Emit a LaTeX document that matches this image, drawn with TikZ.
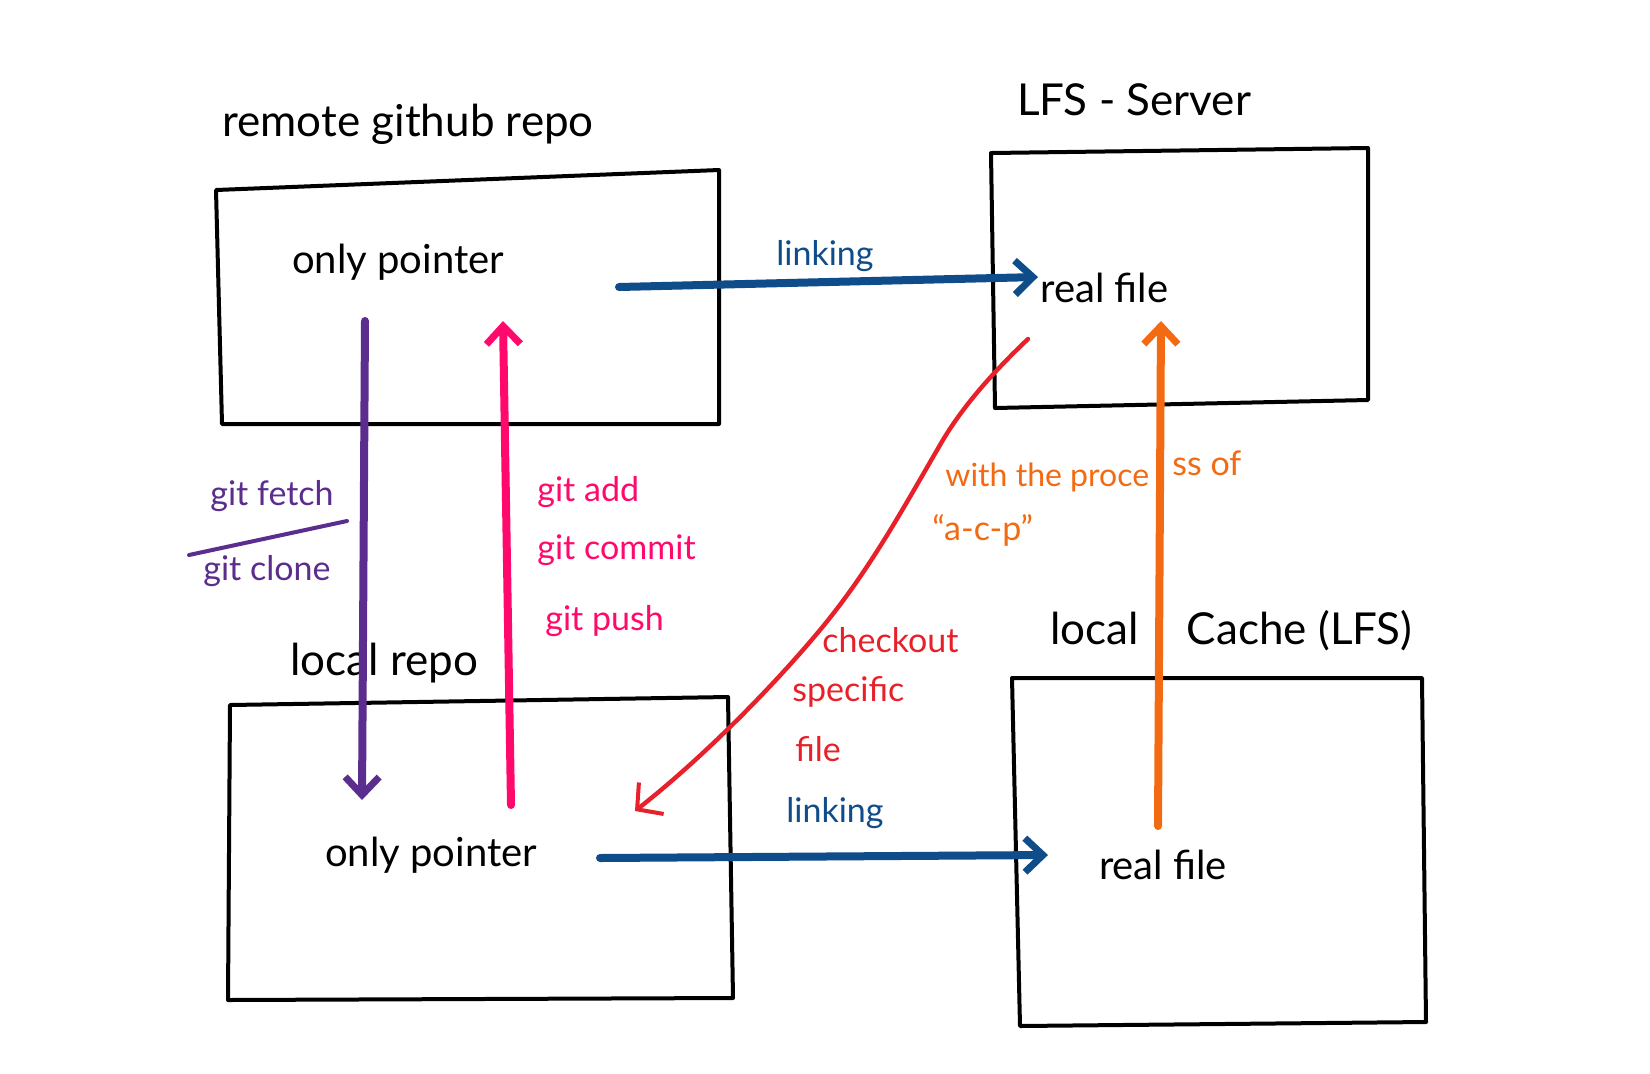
\documentclass[tikz,border=0pt]{standalone}
\usepackage{fontspec}
\setmainfont{Lato}
\usetikzlibrary{arrows.meta}
\definecolor{cblue}{HTML}{0F4C8A}
\definecolor{cpurple}{HTML}{5B2D8E}
\definecolor{cpink}{HTML}{FF0A6C}
\definecolor{cred}{HTML}{E8202A}
\definecolor{corange}{HTML}{F26B13}
\tikzset{
  box/.style={draw=black, line width=2pt, line join=round},
  title/.style={font=\fontsize{22}{24}\selectfont, text=black},
  inner/.style={font=\fontsize{20}{24}\selectfont, text=black},
  arr/.style={line width=4pt, line cap=round, -{Straight Barb[length=9pt,width=17pt,line width=3.5pt]}},
  lbl/.style={font=\fontsize{17}{20}\selectfont, anchor=west, inner sep=0pt},
}
\begin{document}
\begin{tikzpicture}[x=0.5pt,y=-0.5pt]
\useasboundingbox[fill=white] (0,0) rectangle (1650,1073);
% boxes
\draw[box] (216,190) -- (719,170) -- (719,424) -- (222,424) -- cycle;
\draw[box] (991,153) -- (1368,148) -- (1368,400) -- (995,408) -- cycle;
\draw[box] (230,705) -- (728,697) -- (733,998) -- (228,1000) -- cycle;
\draw[box] (1012,678) -- (1422,678) -- (1426,1022) -- (1020,1026) -- cycle;
% titles
\node[title, anchor=west, inner sep=0pt] (t1) at (222,124) {remote github repo};
\node[title] (t2) at (1134,100) {LFS - Server};
\node[title, anchor=west, inner sep=0pt] (t3) at (290,663) {local repo};
\node[title, anchor=west, inner sep=0pt] (t4) at (1050,631) {local\hspace{24pt}Cache (LFS)};
% inner texts
\node[inner] (p1) at (398,262) {only pointer};
\node[inner, anchor=west, inner sep=0pt] (f1) at (1040,288) {real file};
\node[inner] (p2) at (431,855) {only pointer};
\node[inner] (f2) at (1163,865) {real file};
% coordinates for connectors
\coordinate (a1s) at (619,287);
\coordinate (a1e) at (1038,277);
\coordinate (a2s) at (600,858);
\coordinate (a2e) at (1048,855);
\coordinate (ps) at (365,321);
\coordinate (pe) at (362,800);
\coordinate (ks) at (511,805);
\coordinate (ke) at (503,321);
\coordinate (rs) at (1028,339);
\coordinate (re) at (635,811);
\coordinate (os) at (1158,826);
\coordinate (oe) at (1161,321);
% connectors
\draw[arr, draw=cblue] (a1s) -- (a1e);
\draw[arr, draw=cblue] (a2s) -- (a2e);
\draw[arr, draw=cpurple] (ps) -- (pe);
\draw[arr, draw=cpink] (ks) -- (ke);
\draw[line width=2.2pt, draw=cred, line cap=round, line join=round, -{Straight Barb[length=9pt,width=20pt,line width=2pt]}]
  (rs) .. controls (990,375) and (960,410) .. (940,445)
       .. controls (905,505) and (870,570) .. (820,630)
       .. controls (770,690) and (700,760) .. (re);
\draw[arr, draw=corange] (os) -- (oe);
% labels
\node[lbl, text=cblue] (l1) at (776,256) {linking};
\node[lbl, text=cblue] (l2) at (786,813) {linking};
\node[lbl, text=cpurple] (gf) at (210,496) {git fetch};
\coordinate (fl1) at (189,555);
\coordinate (fl2) at (347,521);
\draw[draw=cpurple, line width=2pt, line cap=round] (fl1) -- (fl2);
\node[lbl, text=cpurple] (gc) at (203,571) {git clone};
\node[lbl, text=cpink] (ga) at (537,492) {git add};
\node[lbl, text=cpink] (gm) at (537,550) {git commit};
\node[lbl, text=cpink] (gp) at (545,621) {git push};
\node[lbl, text=cred] (c1) at (822,640) {checkout};
\node[lbl, text=cred] (c2) at (792,692) {specific};
\node[lbl, text=cred] (c3) at (795,749) {file};
\node[lbl, text=corange, font=\fontsize{16}{20}\selectfont] (w1) at (945,477) {with the proce};
\node[lbl, text=corange] (w2) at (1172,463) {ss of};
\node[lbl, text=corange] (w3) at (932,530) {``a-c-p''};
\end{tikzpicture}
\end{document}
